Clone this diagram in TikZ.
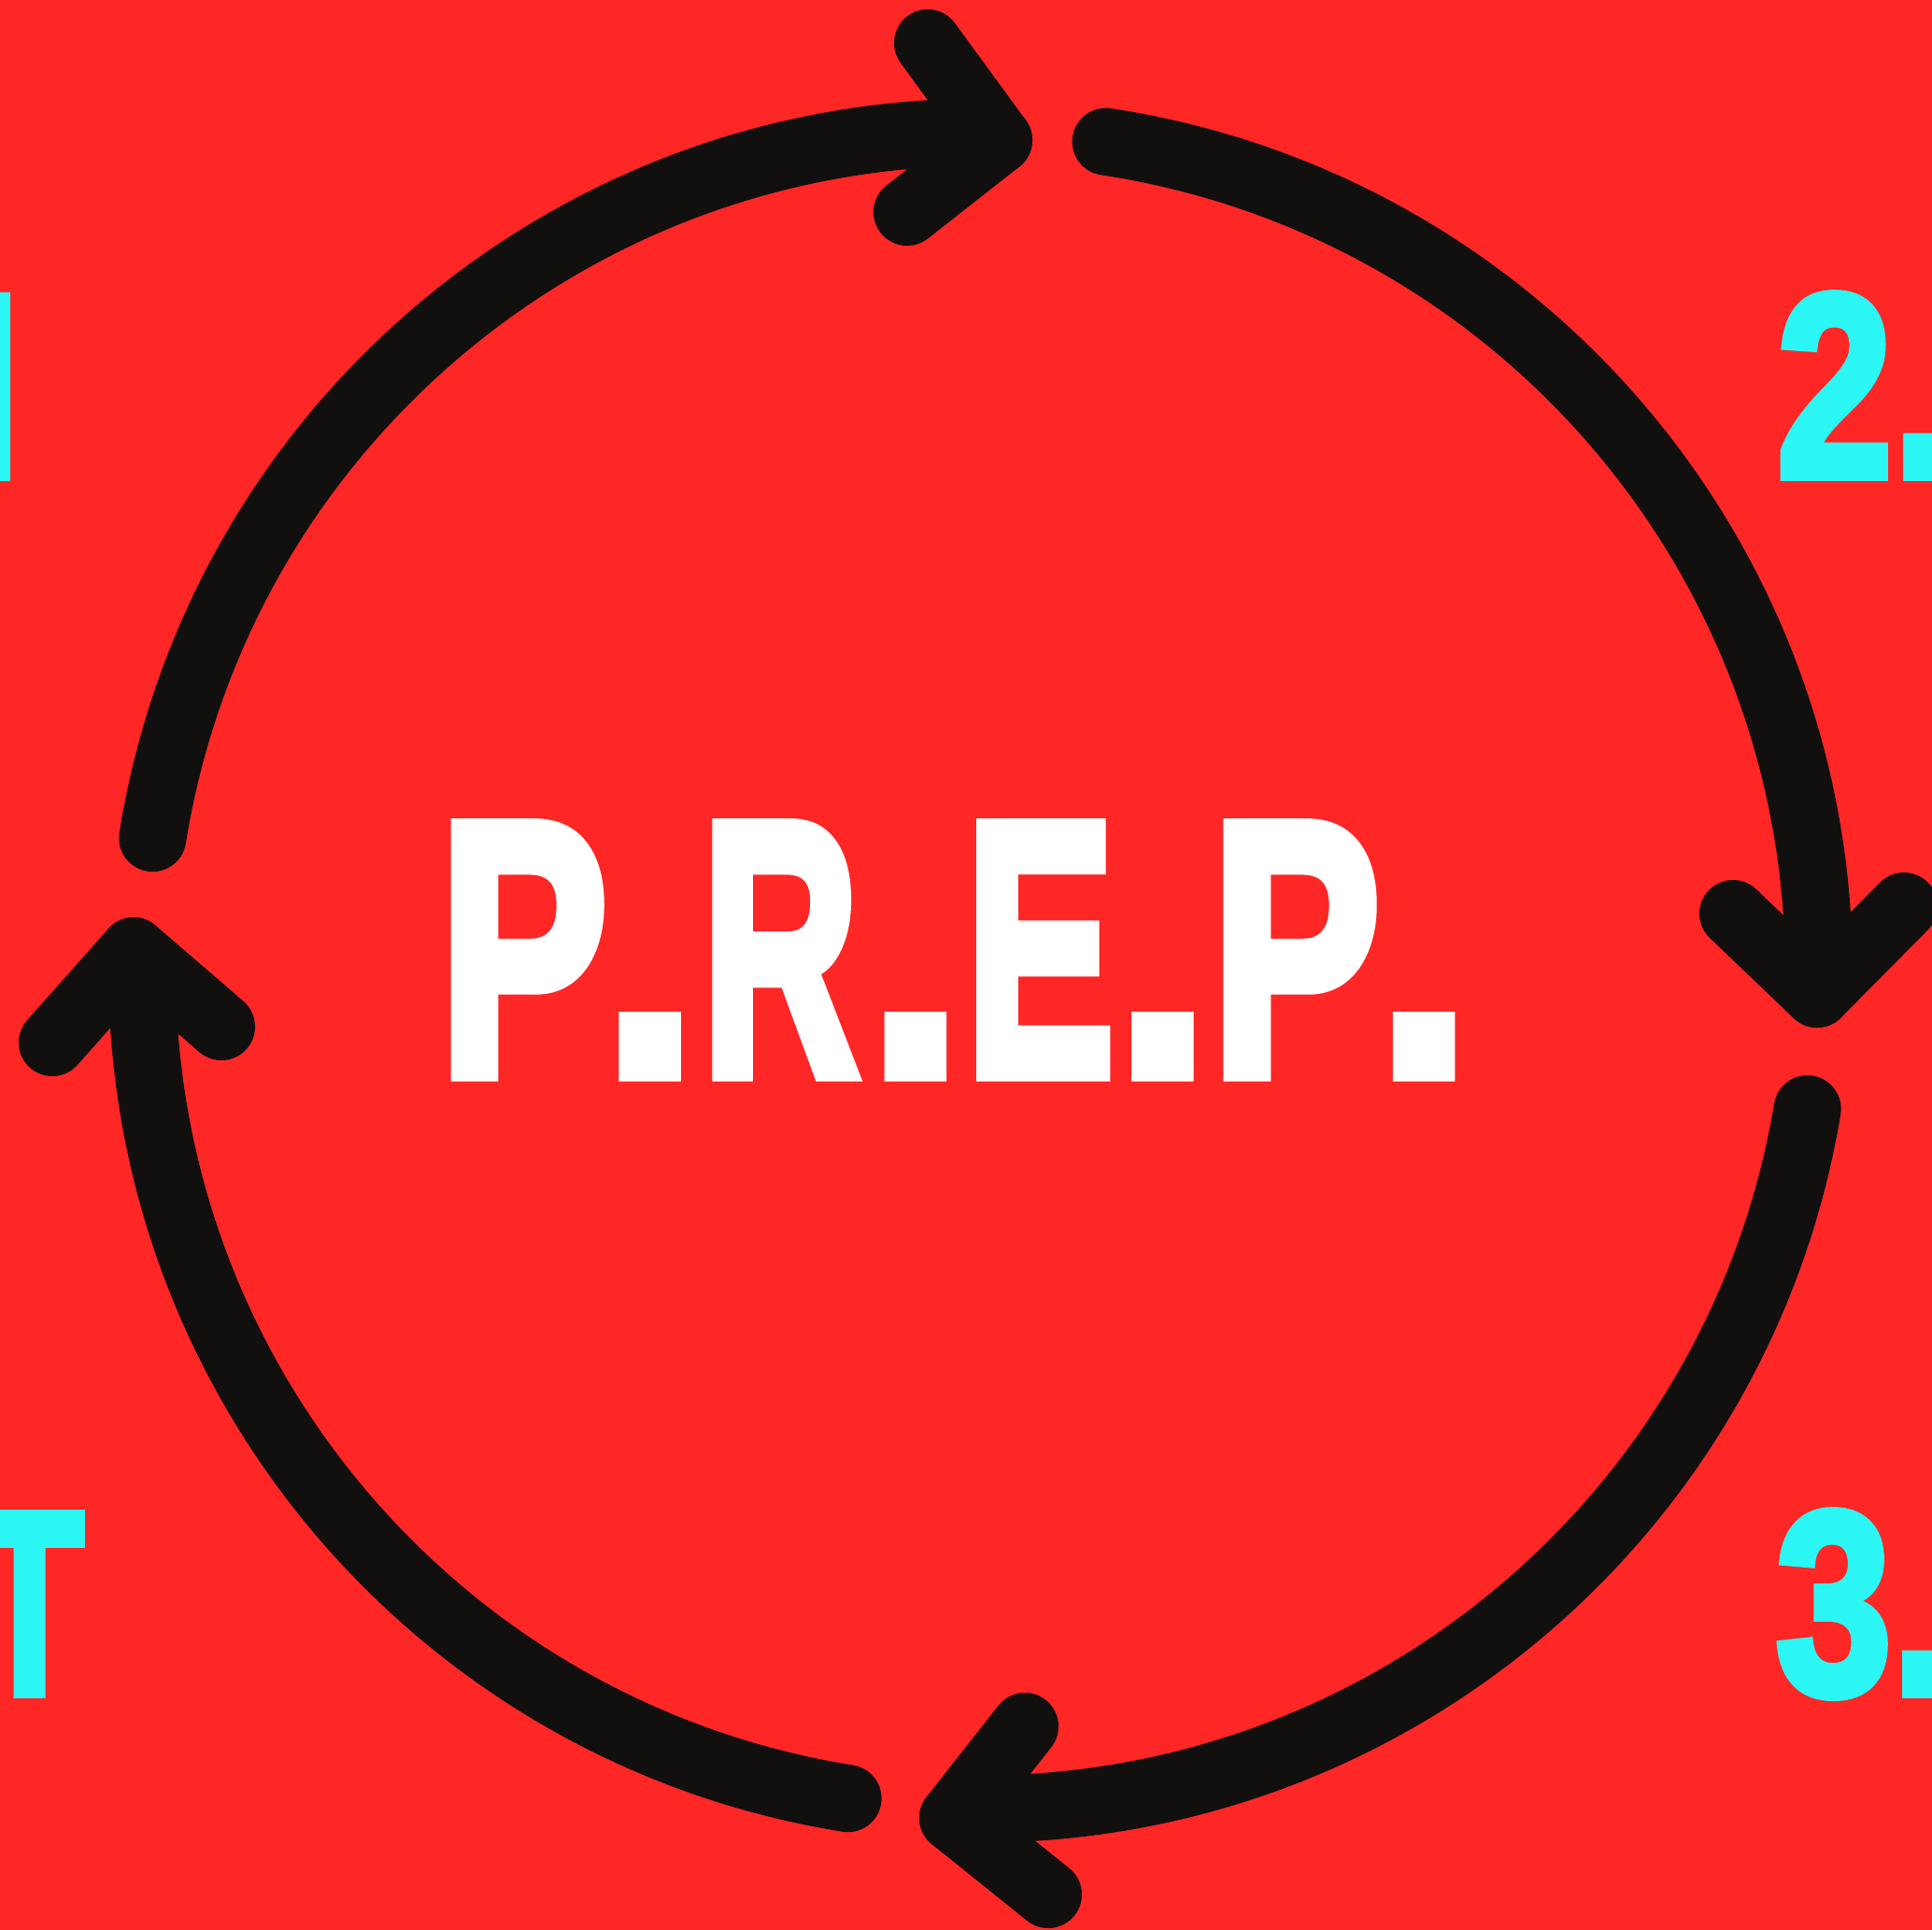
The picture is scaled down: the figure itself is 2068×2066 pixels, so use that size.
\documentclass[tikz,border=0pt]{standalone}
\usepackage{fontspec}
\setmainfont{Liberation Sans}
\newfontfamily\heavy{Liberation Sans}[BoldFeatures={FakeBold=4.5}]
\newfontfamily\labelface{Liberation Sans}[BoldFeatures={FakeBold=3.5}]
\usetikzlibrary{calc}
\definecolor{bgred}{RGB}{255,38,38}
\definecolor{ink}{RGB}{17,16,15}
\definecolor{aqua}{RGB}{44,246,243}
% one condensed glyph of the title, centred in a slot of the given width (cm)
\newcommand\tglyph[3]{\makebox[#1cm][c]{\scalebox{#2}[1]{#3}}}

\begin{document}
\begin{tikzpicture}[x=0.01cm,y=-0.01cm,
  loop/.style={draw=ink, line width=0.72cm, line cap=round, line join=round},
  titletext/.style={anchor=base west, inner sep=0pt, text=white,
    font=\heavy\bfseries\fontsize{109.2pt}{110pt}\selectfont},
  steplabel/.style={anchor=base west, inner sep=0pt, text=aqua,
    font=\labelface\bfseries\fontsize{79.4pt}{80pt}\selectfont}]

\useasboundingbox (0,0) rectangle (2068,2066);
\fill[bgred] (0,0) rectangle (2068,2066);
\clip (0,0) rectangle (2068,2066);

% centre of the cycle
\coordinate (O) at (1049.5,1039);

% arrow tips and the free ends of their arms
\coordinate (v1) at (1069,150);  \coordinate (a1) at (993,46);   \coordinate (b1) at (971,227);
\coordinate (v2) at (1945,1064); \coordinate (a2) at (1855,978); \coordinate (b2) at (2038,970);
\coordinate (v3) at (1020,1946); \coordinate (a3) at (1097,1848);\coordinate (b3) at (1122,2028);
\coordinate (v4) at (143,1018);  \coordinate (a4) at (56,1116);  \coordinate (b4) at (237,1099);

% the four arcs of the cycle, each running into its arrow tip
\draw[loop] ($(O)+(189.1:897.5)$) arc[start angle=189.1, end angle=267.5, radius=897.5] -- (v1);
\draw[loop] ($(O)+(278.6:897.5)$) arc[start angle=278.6, end angle=357.8, radius=897.5] -- (v2);
\draw[loop] ($(O)+(9.5:897.5)$)   arc[start angle=9.5,   end angle=88,    radius=897.5] -- (v3);
\draw[loop] ($(O)+(99.1:897.5)$)  arc[start angle=99.1,  end angle=177.5, radius=897.5] -- (v4);

% arrow heads
\draw[loop] (a1) -- (v1) -- (b1);
\draw[loop] (a2) -- (v2) -- (b2);
\draw[loop] (a3) -- (v3) -- (b3);
\draw[loop] (a4) -- (v4) -- (b4);

% title
\node[titletext] (title) at (491.75,1149)
  {\tglyph{1.355}{0.70}{P}\tglyph{1.355}{0.93}{.}%
   \tglyph{1.433}{0.60}{R}\tglyph{1.459}{0.93}{.}%
   \tglyph{1.209}{0.616}{E}\tglyph{1.413}{0.93}{.}%
   \tglyph{1.437}{0.70}{P}\tglyph{1.303}{0.93}{.}};

% step labels at the edges
\node[steplabel] (s1) at (-41,510)  {\scalebox{0.8}[1]{I}};
\node[steplabel] (s2) at (1901,510) {\scalebox{0.8}[1]{2.}};
\node[steplabel] (s3) at (1900,1813){\scalebox{0.8}[1]{3.}};
\node[steplabel] (s4) at (-27,1813) {\scalebox{0.68}[1]{T}};
\end{tikzpicture}
\end{document}
